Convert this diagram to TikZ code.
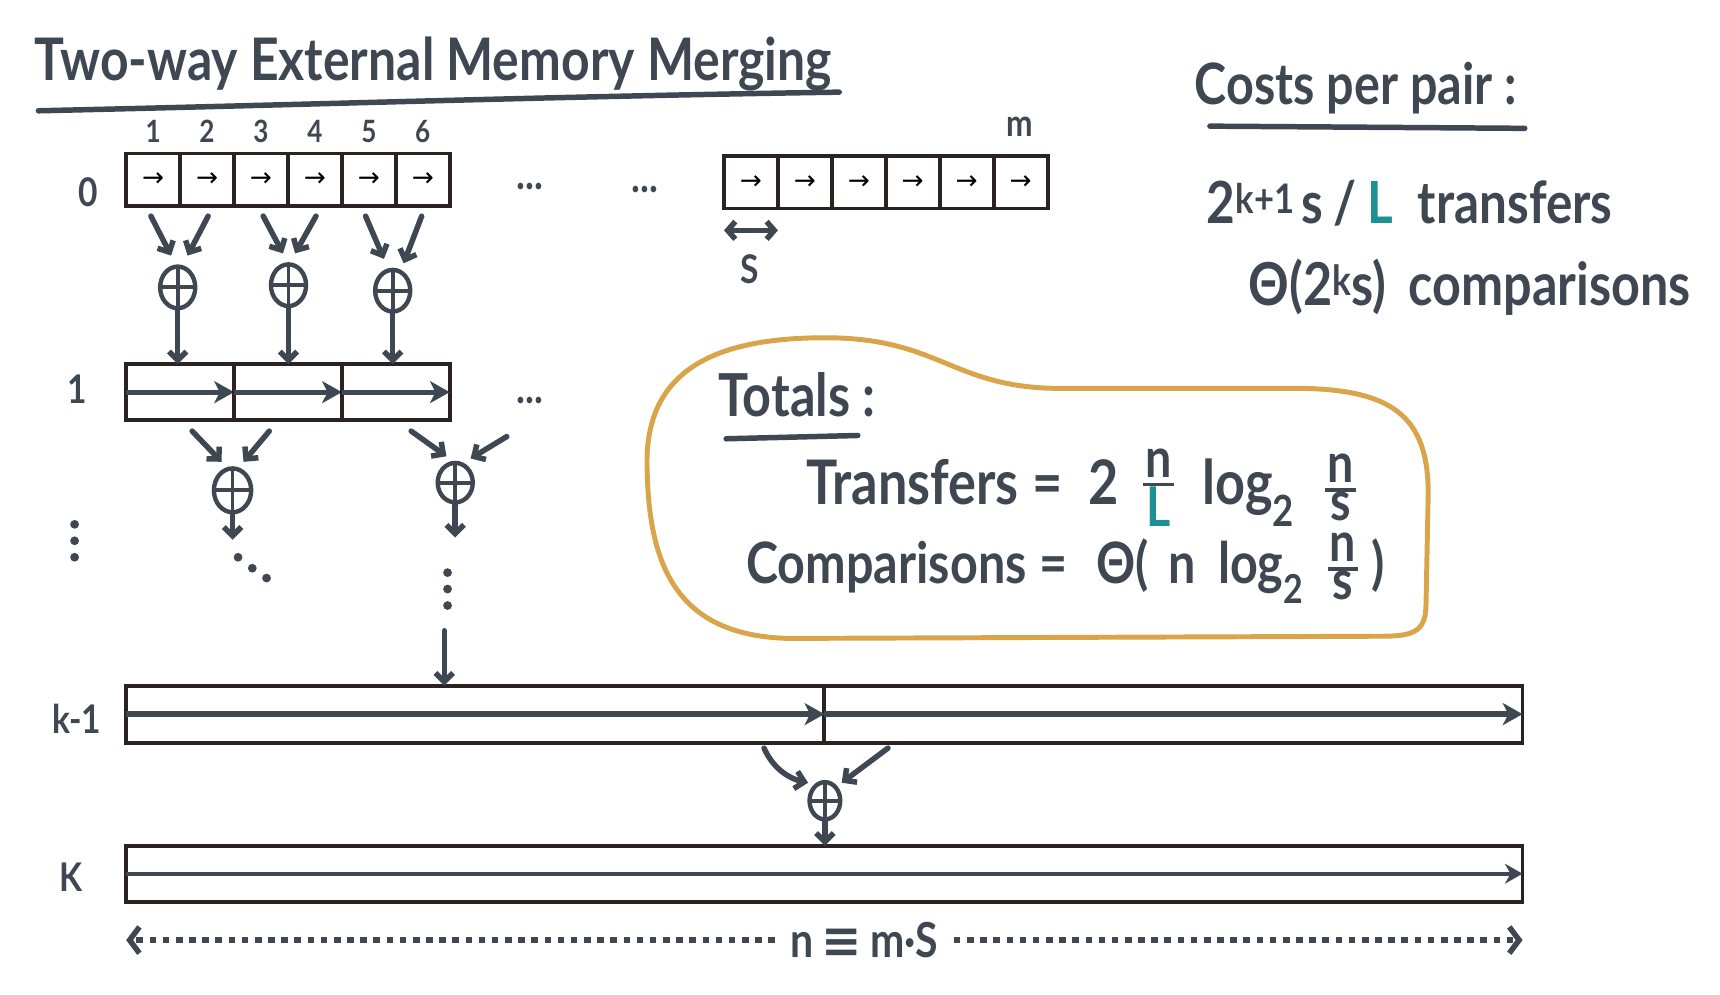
\documentclass[tikz,border=0pt]{standalone}
\usepackage{fontspec}
\setmainfont{Lato}[FakeStretch=0.85]
\newfontfamily\djv{DejaVu Sans}
\usetikzlibrary{arrows.meta,shapes.geometric,calc}
\definecolor{ink}{HTML}{3E4752}
\definecolor{boxc}{HTML}{2B2222}
\definecolor{tealL}{HTML}{1E8F93}
\definecolor{gold}{HTML}{D9A44A}
\tikzset{
  lbl/.style={font=\fontsize{36}{40}\selectfont\bfseries, text=ink, inner sep=0},
  num/.style={font=\fontsize{28}{30}\selectfont\bfseries, text=ink, inner sep=0},
  ell/.style={font=\fontsize{40}{30}\selectfont\bfseries, text=ink, inner sep=0},
  cell/.style={draw=boxc, line width=3.5pt, minimum width=49.17pt, minimum height=48pt, inner sep=0, outer sep=0, fill=white, font=\fontsize{24}{24}\selectfont\djv},
  bigcell/.style={cell, minimum width=98.33pt, minimum height=51pt},
  longcell/.style={cell, minimum width=636.5pt, minimum height=52pt},
  fullcell/.style={cell, minimum width=1273pt, minimum height=51pt},
  merge/.style={ellipse, draw=ink, line width=4pt, minimum width=32pt, minimum height=38pt, inner sep=0,
    path picture={\draw[ink, line width=3.5pt] (path picture bounding box.north) -- (path picture bounding box.south)
      (path picture bounding box.west) -- (path picture bounding box.east);}},
  arr/.style={draw=ink, line width=5pt, line cap=round, -{Straight Barb[length=8pt,width=16pt]}},
  fat/.style={draw=ink, line width=6pt, -{Stealth[length=18pt,width=20pt,inset=5pt]}},
  thin/.style={draw=ink, line width=4pt, -{Stealth[length=16pt,width=18pt,inset=5pt]}},
  dim/.style={draw=ink, line width=5pt, dash pattern=on 6pt off 6pt, -{Straight Barb[length=9pt,width=24pt]}},
  dot/.style={circle, fill=ink, inner sep=0, minimum size=8pt},
  txt/.style={text=ink, inner sep=0},
}
\newcommand{\hfr}[2]{\raisebox{6pt}{\fontsize{50}{32}\selectfont\setlength\arrayrulewidth{3.5pt}\renewcommand\arraystretch{0.7}\setlength\tabcolsep{2pt}\begin{tabular}{c}#1\\[-2pt]\hline #2\end{tabular}}}
\begin{document}
\begin{tikzpicture}[x=1pt,y=-1pt]
\useasboundingbox (0,0) rectangle (1568,907);
% title
\node[txt, font=\fontsize{53.5}{60}\selectfont\bfseries] (title) at (395,58) {Two-way External Memory Merging};
\draw[ink, line width=5pt, line cap=round] (35,101) .. controls (300,95) and (500,88) .. (765,84);
% level 0 left group
\foreach \i in {1,...,6} {
  \node[cell] (a\i) at ({115+49.17*(\i-0.5)},164) {→};
  \node[num, above=10pt] at (a\i.north) {\i};
}
% level 0 right group
\foreach \i in {1,...,6} {
  \node[cell] (r\i) at ({660+49.17*(\i-0.5)},166) {→};
}
\node[num, font=\fontsize{34}{36}\selectfont\bfseries] (mlab) at (930,116) {m};
\node[lbl] (l0) at (80,175) {0};
\node[ell] (d1) at (483,170) {...};
\node[ell] (d2) at (588,173) {...};
\draw[draw=ink, line width=5pt, {Straight Barb[length=7pt,width=16pt]}-{Straight Barb[length=7pt,width=16pt]}] ([yshift=-20pt]r1.south west) -- ([yshift=-20pt]r1.south east);
\node[lbl] (S) at (683,245) {S};
% merges level 0 -> 1
\node[merge] (m1) at (162,262) {};
\node[merge] (m2) at (263,260) {};
\node[merge] (m3) at (358,265) {};
\draw[arr] ([xshift=-2pt,yshift=-9pt]a1.south) -- ([xshift=-6pt,yshift=8pt]m1.north);
\draw[arr] ([xshift=1pt,yshift=-9pt]a2.south) -- ([xshift=9pt,yshift=8pt]m1.north);
\draw[arr] ([xshift=2pt,yshift=-9pt]a3.south) -- ([xshift=-5pt,yshift=8pt]m2.north);
\draw[arr] ([xshift=1pt,yshift=-9pt]a4.south) -- ([xshift=6pt,yshift=8pt]m2.north);
\draw[arr] ([xshift=-3pt,yshift=-9pt]a5.south) -- ([xshift=-8pt,yshift=8pt]m3.north);
\draw[arr] ([xshift=-1pt,yshift=-9pt]a6.south) -- ([xshift=10pt,yshift=4pt]m3.north);
% level 1
\foreach \i in {1,2,3} {
  \node[bigcell] (b\i) at ({115+98.33*(\i-0.5)},357.5) {};
  \draw[fat, line width=4.5pt] (b\i.west) -- (b\i.east);
}
\draw[arr] (m1.south) -- (m1.south |- b1.north);
\draw[arr] (m2.south) -- (m2.south |- b2.north);
\draw[arr] (m3.south) -- (m3.south |- b3.north);
\node[lbl] (l1) at (70,355) {1};
\node[ell] (d3) at (483,365) {...};
% merges level 1 -> 2
\node[merge, minimum width=34pt, minimum height=40pt] (m4) at (212,447) {};
\node[merge, minimum width=32pt, minimum height=36pt] (m5) at (415,440) {};
\coordinate (ext) at (462,398);
\draw[arr] ([xshift=11pt,yshift=-10pt]b1.south) -- ([xshift=-10pt,yshift=4pt]m4.north);
\draw[arr] ([xshift=-17pt,yshift=-10pt]b2.south) -- ([xshift=10pt,yshift=4pt]m4.north);
\draw[arr] ([xshift=14pt,yshift=-10pt]b3.south) -- ([xshift=-8pt,yshift=4pt]m5.north);
\draw[arr] (ext) -- ([xshift=14pt,yshift=2pt]m5.north);
\coordinate (m4end) at (212,492);
\coordinate (m5end) at (415,490);
\draw[arr] (m4.south) -- (m4end);
\draw[arr] (m5.south) -- (m5end);
\node[dot] at (217,508) {};
\node[dot] at (230,518) {};
\node[dot] at (243,527) {};
\node[dot] at (68,478) {};
\node[dot] at (68,493) {};
\node[dot] at (68,508) {};
\node[dot] at (408,522) {};
\node[dot] at (408,537) {};
\node[dot] at (408,552) {};
% level k-1
\node[longcell] (c1) at (433.25,651) {};
\node[longcell] (c2) at (1069.75,651) {};
\coordinate (kin) at (405,575);
\draw[arr] (kin) -- (kin |- c1.north);
\draw[fat] (c1.west) -- (c1.east);
\draw[fat] (c2.west) -- (c2.east);
\node[lbl] (lk1) at (70,655) {k-1};
% merge k
\node[merge, minimum width=28pt, minimum height=34pt] (mk) at (752,730) {};
\draw[arr] ([xshift=-55pt,yshift=-5pt]c1.south east) .. controls +(8,18) and +(-18,-4) .. ([xshift=-4pt,yshift=3pt]mk.north west);
\draw[arr] ([xshift=58pt,yshift=-5pt]c2.south west) -- ([xshift=4pt,yshift=3pt]mk.north east);
% level K
\node[fullcell] (k) at (751.5,796.5) {};
\draw[arr] (mk.south) -- (mk.south |- k.north);
\draw[thin] (k.west) -- (k.east);
\node[lbl] (lk) at (65,800) {K};
% dimension
\node[txt, font=\fontsize{44}{48}\selectfont\bfseries] (nms) at (788,857) {n\,{\djv\bfseries ≡}\,m·S};
\draw[dim] ([xshift=-14pt]nms.west) -- (k.west |- nms.west);
\draw[dim] ([xshift=14pt]nms.east) -- (k.east |- nms.east);
% costs per pair
\node[txt, font=\fontsize{52}{56}\selectfont\bfseries] (cpp) at (1236,80) {Costs per pair :};
\draw[ink, line width=5pt, line cap=round] (1103,115) -- (1390,117);
\node[txt, font=\fontsize{53}{56}\selectfont\bfseries, anchor=west] (tr) at (1100,185) {2\textsuperscript{k+1}\hspace{6pt}s\hspace{10pt}/\hspace{10pt}\textcolor{tealL}{L}\hspace{22pt}transfers};
\node[txt, font=\fontsize{54}{56}\selectfont\bfseries, anchor=west] (cmp) at (1138,262) {Θ(2\textsuperscript{k}s)\hspace{20pt}comparisons};
% totals blob
\draw[gold, line width=4.5pt] (590,430) .. controls (586,345) and (640,306) .. (760,308)
  .. controls (855,310) and (870,352) .. (960,354) -- (1180,354)
  .. controls (1270,354) and (1302,380) .. (1302,450) -- (1300,550)
  .. controls (1300,575) and (1290,580) .. (1260,580) -- (720,582)
  .. controls (620,580) and (592,520) .. cycle;
\node[txt, font=\fontsize{54}{58}\selectfont\bfseries, anchor=base west] (tot) at (655,380) {Totals :};
\draw[ink, line width=5pt, line cap=round] (662,400) -- (782,397);
\node[txt, font=\fontsize{56}{60}\selectfont\bfseries, anchor=base west] (tf) at (735,460) {Transfers\hspace{12pt}=\hspace{24pt}2\hspace{22pt}\hfr{n}{\textcolor{tealL}{L}}\hspace{26pt}log\textsubscript{2}\hspace{28pt}\hfr{n}{s}};
\node[txt, font=\fontsize{52}{60}\selectfont\bfseries, anchor=base west] (cf) at (680,532) {Comparisons\hspace{12pt}=\hspace{26pt}Θ(\hspace{18pt}n\hspace{20pt}log\textsubscript{2}\hspace{22pt}\hfr{n}{s}\hspace{12pt})};
\end{tikzpicture}
\end{document}
